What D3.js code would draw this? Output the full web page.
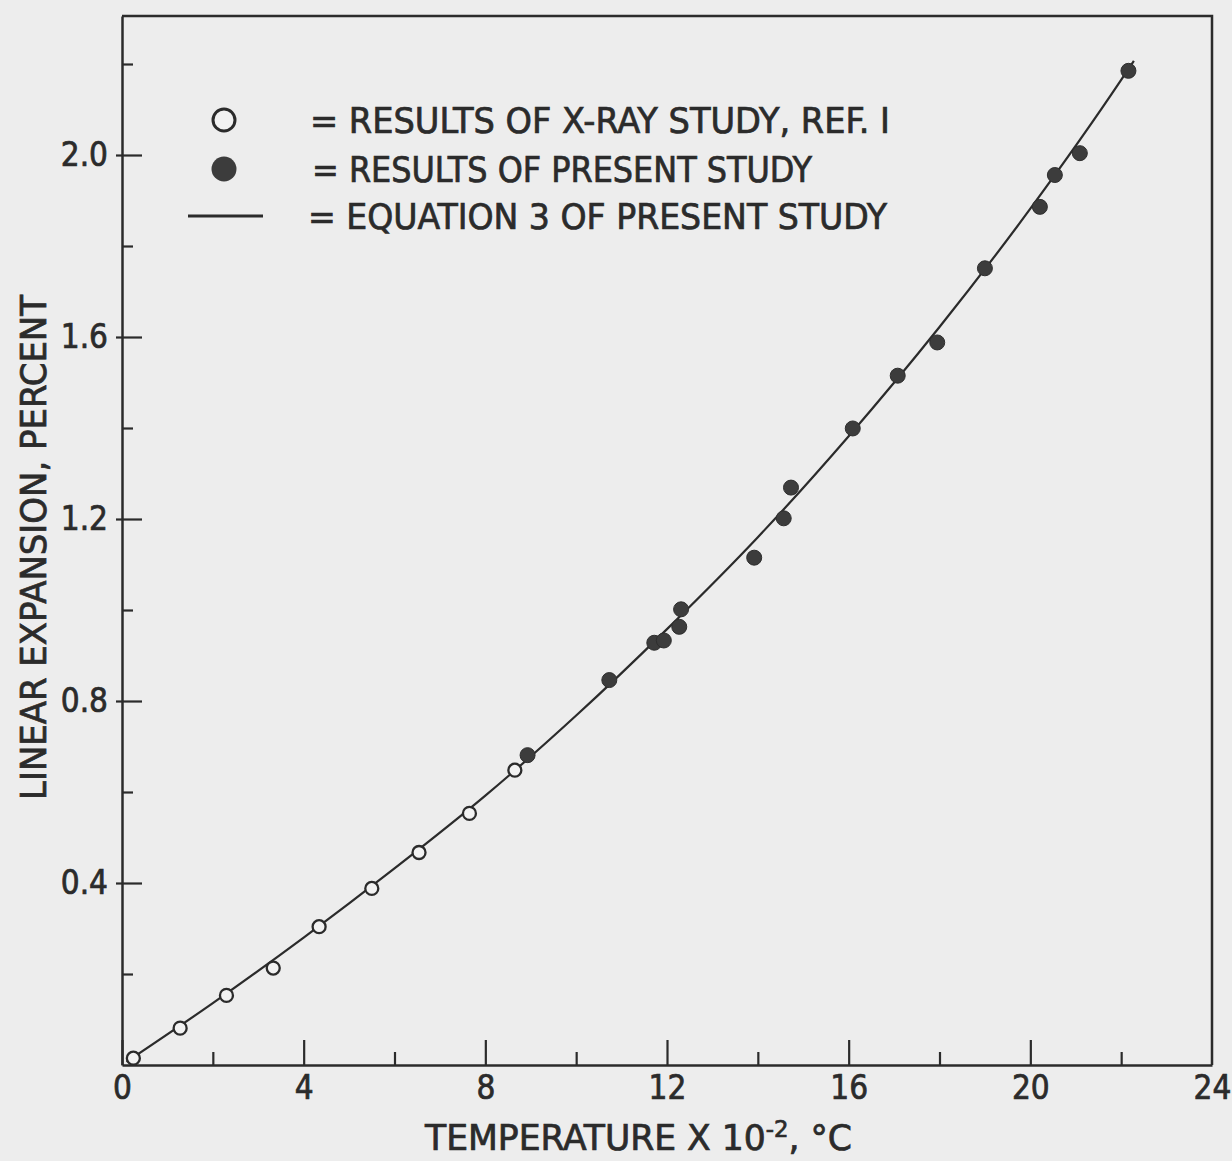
<!DOCTYPE html>
<html>
<head>
<meta charset="utf-8">
<script src="https://cdn.jsdelivr.net/npm/d3@7"></script>
<style>
  html, body { margin: 0; padding: 0; background: #ededed; }
  svg { display: block; }
  text { font-family: "Liberation Sans Narrow", "DejaVu Sans Condensed", "Roboto Condensed", "Liberation Sans", sans-serif; fill: #2b2b2b; stroke: #2b2b2b; stroke-width: 0.7px; }
</style>
</head>
<body>
<script>
// ---- data ----
const xrayTemps  = [0.25, 1.28, 2.30, 3.33, 4.34, 5.50, 6.54, 7.65, 8.65];
const xrayValues = [0.015, 0.081, 0.153, 0.213, 0.304, 0.388, 0.467, 0.553, 0.648];

const presentTemps  = [8.93, 10.73, 11.72, 11.93, 12.27, 12.31, 13.92, 14.57, 14.73, 16.09, 17.08, 17.95, 19.0, 20.21, 20.54, 21.09, 22.16];
const presentValues = [0.681, 0.846, 0.928, 0.933, 0.963, 1.0015, 1.115, 1.2015, 1.269, 1.399, 1.515, 1.588, 1.751, 1.886, 1.956, 2.004, 2.185];

// points (equation 3)
const curveTemps  = [0.1, 2, 4, 6, 8, 10, 12, 14, 16, 18, 20, 22, 22.28];
const curveValues = [0.007, 0.136, 0.28, 0.432, 0.592, 0.768, 0.958, 1.16, 1.382, 1.622, 1.882, 2.165, 2.207];

const xMajorTicks = [0, 4, 8, 12, 16, 20, 24];
const xMinorTicks = [2, 6, 10, 14, 18, 22];
const yMajorTicks = [0.4, 0.8, 1.2, 1.6, 2.0];
const yMinorTicks = [0.2, 0.6, 1.0, 1.4, 1.8, 2.2];

const legendLabels = ["= RESULTS OF X-RAY STUDY, REF. I", "= RESULTS OF PRESENT STUDY", "= EQUATION  3 OF PRESENT STUDY"];
const xTitle = "TEMPERATURE  X 10";
const yTitle = "LINEAR  EXPANSION,  PERCENT";

// ---- drawing ----
const W = 1232, H = 1161;
const ink = "#2b2b2b";
const svg = d3.select("body").append("svg").attr("width", W).attr("height", H);
svg.append("rect").attr("width", W).attr("height", H).attr("fill", "#ededed");

const x = d3.scaleLinear().domain([0, 24]).range([122, 1212]);
const y = d3.scaleLinear().domain([0, 2.3055]).range([1065, 16]);

// frame (top and right)
svg.append("path")
  .attr("d", `M${x(0)},${y(2.3055)} H${x(24)} V${y(0)}`)
  .attr("fill", "none").attr("stroke", ink).attr("stroke-width", 2.5);

// x axis
const gx = svg.append("g").attr("transform", `translate(0,${y(0)})`)
  .call(d3.axisBottom(x).tickValues(xMajorTicks).tickFormat(d3.format("d")).tickSize(-25).tickSizeOuter(0).tickPadding(11));
svg.append("g").attr("transform", `translate(0,${y(0)})`)
  .call(d3.axisBottom(x).tickValues(xMinorTicks).tickFormat("").tickSize(-13).tickSizeOuter(0))
  .select(".domain").remove();

// y axis
const gy = svg.append("g").attr("transform", `translate(${x(0)},0)`)
  .call(d3.axisLeft(y).tickValues(yMajorTicks).tickFormat(d3.format(".1f")).tickSize(-20).tickSizeOuter(0).tickPadding(14));
svg.append("g").attr("transform", `translate(${x(0)},0)`)
  .call(d3.axisLeft(y).tickValues(yMinorTicks).tickFormat("").tickSize(-11).tickSizeOuter(0))
  .select(".domain").remove();

svg.selectAll(".domain").attr("stroke", ink).attr("stroke-width", 2.5);
svg.selectAll(".tick line").attr("stroke", ink).attr("stroke-width", 2.2);
// major y ticks cross the axis slightly, as in the reference
gy.selectAll(".tick line").attr("x1", -6);
svg.selectAll(".tick text").attr("font-size", 33).attr("fill", ink)
  .style("font-family", '"Liberation Sans Narrow", "DejaVu Sans Condensed", "Liberation Sans", sans-serif');
gx.select(".tick:last-child line").remove();

// curve (equation 3)
const curveData = curveTemps.map((t, i) => [t, curveValues[i]]);
svg.append("path")
  .datum(curveData)
  .attr("d", d3.line().x(d => x(d[0])).y(d => y(d[1])).curve(d3.curveMonotoneX))
  .attr("fill", "none").attr("stroke", ink).attr("stroke-width", 2.2);

// x-ray points (open)
svg.append("g").selectAll("circle")
  .data(xrayTemps.map((t, i) => [t, xrayValues[i]]))
  .join("circle")
  .attr("cx", d => x(d[0])).attr("cy", d => y(d[1])).attr("r", 6.5)
  .attr("fill", "#f2f2f2").attr("stroke", ink).attr("stroke-width", 2.3);

// present-study points (filled)
svg.append("g").selectAll("circle")
  .data(presentTemps.map((t, i) => [t, presentValues[i]]))
  .join("circle")
  .attr("cx", d => x(d[0])).attr("cy", d => y(d[1])).attr("r", 7.5)
  .attr("fill", "#3c3c3c").attr("stroke", "#2e2e2e").attr("stroke-width", 1);

// legend
const lg = svg.append("g");
lg.append("circle").attr("cx", 224).attr("cy", 120).attr("r", 11)
  .attr("fill", "#f2f2f2").attr("stroke", ink).attr("stroke-width", 3);
lg.append("circle").attr("cx", 224).attr("cy", 169).attr("r", 12.5)
  .attr("fill", "#3c3c3c");
lg.append("line").attr("x1", 188).attr("x2", 263).attr("y1", 216).attr("y2", 216)
  .attr("stroke", ink).attr("stroke-width", 3);

const legendX = [310, 312, 308];
const legendW = [580, 500, 579];
const legendY = [133, 182, 229];
legendLabels.forEach((s, i) => {
  lg.append("text").attr("x", legendX[i]).attr("y", legendY[i])
    .attr("font-size", 36).attr("textLength", legendW[i]).attr("lengthAdjust", "spacingAndGlyphs")
    .text(s);
});

// x axis title
const xt = svg.append("text").attr("x", 425).attr("y", 1150).attr("font-size", 35)
  .attr("textLength", 427).attr("lengthAdjust", "spacingAndGlyphs");
xt.append("tspan").text(xTitle);
xt.append("tspan").attr("dy", -13).attr("font-size", 23).text("-2");
xt.append("tspan").attr("dy", 13).text(", °C");

// y axis title
svg.append("text")
  .attr("transform", `translate(46,${(295 + 800) / 2}) rotate(-90)`)
  .attr("text-anchor", "middle").attr("font-size", 36)
  .attr("textLength", 505).attr("lengthAdjust", "spacingAndGlyphs")
  .text(yTitle);
</script>
</body>
</html>
